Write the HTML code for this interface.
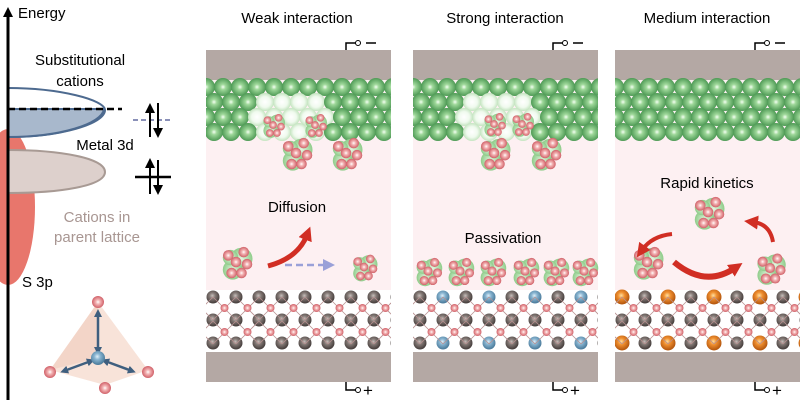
<!DOCTYPE html>
<html><head><meta charset="utf-8"><style>
html,body{margin:0;padding:0;background:#fff;width:800px;height:400px;overflow:hidden}
svg{display:block;font-family:"Liberation Sans",sans-serif}
</style></head><body>
<svg id="s" width="800" height="400" viewBox="0 0 800 400" xmlns="http://www.w3.org/2000/svg">
<defs>
<radialGradient id="gg" cx="0.5" cy="0.5" r="0.5"><stop offset="0" stop-color="#f4fff2"/><stop offset="0.3" stop-color="#9fd89a"/><stop offset="1" stop-color="#4e9a55"/></radialGradient>
<radialGradient id="gl" cx="0.5" cy="0.5" r="0.5"><stop offset="0" stop-color="#ffffff"/><stop offset="0.6" stop-color="#f0faee"/><stop offset="1" stop-color="#c4e4c0"/></radialGradient>
<radialGradient id="pk" cx="0.5" cy="0.5" r="0.5"><stop offset="0" stop-color="#fff"/><stop offset="0.35" stop-color="#f4b6b6"/><stop offset="1" stop-color="#d06068"/></radialGradient>
<radialGradient id="dg" cx="0.45" cy="0.4" r="0.55"><stop offset="0" stop-color="#c8c0bc"/><stop offset="0.4" stop-color="#847a76"/><stop offset="1" stop-color="#4a4240"/></radialGradient>
<radialGradient id="bl" cx="0.45" cy="0.4" r="0.55"><stop offset="0" stop-color="#e0f0fa"/><stop offset="0.4" stop-color="#88b4d0"/><stop offset="1" stop-color="#4f7f9f"/></radialGradient>
<radialGradient id="or" cx="0.45" cy="0.4" r="0.55"><stop offset="0" stop-color="#ffe0a0"/><stop offset="0.4" stop-color="#f09030"/><stop offset="1" stop-color="#b85a10"/></radialGradient>
<radialGradient id="lg" cx="0.5" cy="0.5" r="0.5"><stop offset="0" stop-color="#e4f6e0"/><stop offset="1" stop-color="#8fcc8a"/></radialGradient>
<marker id="ah" markerUnits="userSpaceOnUse" markerWidth="14" markerHeight="14" refX="5" refY="7" orient="auto"><path d="M0,0 L14,7 L0,14z" fill="#d12e24"/></marker>
<marker id="ab" markerUnits="userSpaceOnUse" markerWidth="12" markerHeight="12" refX="3" refY="6" orient="auto"><path d="M0,0 L12,6 L0,12z" fill="#9aa0d8"/></marker>
<marker id="ak" markerUnits="userSpaceOnUse" markerWidth="10" markerHeight="10" refX="5" refY="5" orient="auto"><path d="M0,0 L10,5 L0,10z" fill="#000"/></marker>
<marker id="an" markerUnits="userSpaceOnUse" markerWidth="8" markerHeight="8" refX="4" refY="4" orient="auto-start-reverse"><path d="M0,0 L8,4 L0,8z" fill="#3f5f7f"/></marker>
</defs>

<ellipse cx="8" cy="207" rx="27" ry="78" fill="#e8766c"/>
<path d="M8,88 C60,88 105,100 105,110 C105,124 60,137 8,137" fill="#fff" stroke="#4d6a8f" stroke-width="2"/>
<path d="M8,109 L104,109 C102,124 60,137 8,137z" fill="#a8b8cc" stroke="#4d6a8f" stroke-width="2"/>
<path d="M8,150 C60,150 105,158 105,172 C105,186 60,193 8,193" fill="#ddd0cc" stroke="#a89a94" stroke-width="2"/>
<line x1="8" y1="109" x2="122" y2="109" stroke="#000" stroke-width="2.5" stroke-dasharray="7,4"/>
<line x1="8" y1="400" x2="8" y2="12" stroke="#000" stroke-width="3" marker-end="url(#ak)"/>
<text x="18" y="18" font-size="15">Energy</text>
<text x="80" y="65" font-size="15" text-anchor="middle">Substitutional</text>
<text x="80" y="86" font-size="15" text-anchor="middle">cations</text>
<text x="105" y="150" font-size="15" text-anchor="middle">Metal 3d</text>
<text x="97" y="222" font-size="15" text-anchor="middle" fill="#a89692">Cations in</text>
<text x="97" y="242" font-size="15" text-anchor="middle" fill="#a89692">parent lattice</text>
<text x="22" y="287" font-size="15">S 3p</text>
<line x1="133" y1="120" x2="172" y2="120" stroke="#8a90b8" stroke-width="2" stroke-dasharray="5,3"/>
<line x1="150" y1="137" x2="150" y2="108" stroke="#000" stroke-width="2" marker-end="url(#ak)"/>
<line x1="158" y1="103" x2="158" y2="133" stroke="#000" stroke-width="2" marker-end="url(#ak)"/>
<line x1="135" y1="177" x2="171" y2="177" stroke="#000" stroke-width="2.5"/>
<line x1="150" y1="194" x2="150" y2="163" stroke="#000" stroke-width="2" marker-end="url(#ak)"/>
<line x1="158" y1="160" x2="158" y2="190" stroke="#000" stroke-width="2" marker-end="url(#ak)"/>
<path d="M98,302 L50,370 L105,385 L148,370z" fill="#f6dcd0" opacity="0.8"/>
<path d="M98,302 L50,370 L98,358z" fill="#f0cbbd" opacity="0.6"/>
<line x1="98" y1="351" x2="98" y2="313" stroke="#3f5f7f" stroke-width="2.5" marker-end="url(#an)" marker-start="url(#an)"/>
<line x1="91" y1="361" x2="64" y2="371" stroke="#3f5f7f" stroke-width="2.5" marker-end="url(#an)" marker-start="url(#an)"/>
<line x1="105" y1="361" x2="132" y2="371" stroke="#3f5f7f" stroke-width="2.5" marker-end="url(#an)" marker-start="url(#an)"/>
<circle cx="98" cy="358" r="7" fill="url(#bl)"/>
<circle cx="98" cy="302" r="6" fill="url(#pk)"/>
<circle cx="50" cy="372" r="6" fill="url(#pk)"/>
<circle cx="148" cy="372" r="6" fill="url(#pk)"/>
<circle cx="105" cy="388" r="6" fill="url(#pk)"/>

<text x="297" y="23" font-size="15" text-anchor="middle">Weak interaction</text>
<text x="505" y="23" font-size="15" text-anchor="middle">Strong interaction</text>
<text x="707" y="23" font-size="15" text-anchor="middle">Medium interaction</text>
<g id="panels"></g>
<g id="over"></g>
</svg>
<script>
var NS="http://www.w3.org/2000/svg";
var P=document.getElementById('panels'),O=document.getElementById('over');
function el(p,t,a,txt){var e=document.createElementNS(NS,t);for(var k in a)e.setAttribute(k,a[k]);if(txt)e.textContent=txt;p.appendChild(e);return e;}
function c(p,x,y,r,f){el(p,'circle',{cx:x,cy:y,r:r,fill:f});}
var xs=[206,413,615];
xs.forEach(function(x0,i){
 var w=185;
 var g=el(P,'g',{});
 var cp=el(g,'clipPath',{id:'cp'+i});el(cp,'rect',{x:x0,y:40,width:w,height:345});
 var h=el(g,'g',{'clip-path':'url(#cp'+i+')'});
 el(h,'rect',{x:x0,y:50,width:w,height:30,fill:'#b4a8a4'});
 el(h,'rect',{x:x0,y:80,width:w,height:210,fill:'#fdf0f2'});
 el(h,'rect',{x:x0,y:290,width:w,height:62,fill:'#fff'});
 el(h,'rect',{x:x0,y:352,width:w,height:30,fill:'#b4a8a4'});
 for(var r=0;r<4;r++)for(var k=-1;k<12;k++){
   var cx=x0+k*17+(r%2?8:0),cy=87+r*15;
   var light=(i<2)&&Math.abs(cx-(x0+85))<35&&cy>95;
   c(h,cx,cy,9,light?'url(#gl)':'url(#gg)');
 }
 [297,320,343].forEach(function(yy,ri){for(var k=0;k<9;k++){var cx=x0+7+k*23;var f='url(#dg)';
   if(i==1&&ri!=1&&k%2==1)f='url(#bl)';
   if(i==2&&ri!=1&&k%2==0)f='url(#or)';
   c(h,cx,yy,(f=='url(#or)')?7.5:6.5,f);}});
 [308,332].forEach(function(yy){for(var k=-1;k<9;k++){
   el(h,'line',{x1:x0+7+k*23,y1:yy-11,x2:x0+30+k*23,y2:yy+12,stroke:'#b89090','stroke-width':0.8});
   el(h,'line',{x1:x0+30+k*23,y1:yy-11,x2:x0+7+k*23,y2:yy+12,stroke:'#b89090','stroke-width':0.8});
   c(h,x0+18.5+k*23,yy,4,'url(#pk)');}});
 el(P,'path',{d:'M'+(x0+w-45)+',50 V43 H'+(x0+w-35),stroke:'#000',fill:'none','stroke-width':1.5});
 el(P,'circle',{cx:x0+w-33,cy:43,r:2.5,fill:'#fff',stroke:'#000'});
 el(P,'line',{x1:x0+w-25,y1:43,x2:x0+w-15,y2:43,stroke:'#000','stroke-width':1.5});
 el(P,'path',{d:'M'+(x0+w-45)+',382 V390 H'+(x0+w-35),stroke:'#000',fill:'none','stroke-width':1.5});
 el(P,'circle',{cx:x0+w-33,cy:390,r:2.5,fill:'#fff',stroke:'#000'});
 el(P,'text',{x:x0+w-28,y:396,'font-size':17},'+');
});
function clus(x,y,s){s=s||1;
 c(O,x+5*s,y-3*s,10*s,'url(#lg)');c(O,x-3*s,y+7*s,9*s,'url(#lg)');c(O,x-5*s,y-4*s,7*s,'url(#lg)');
 [[-7,-6],[0,0],[7,-9],[-4,10],[5,10],[10,2]].forEach(function(p){c(O,x+p[0]*s,y+p[1]*s,4.8*s,'url(#pk)');});
}
clus(273,125,0.8);clus(315,125,0.8);clus(296,153,1.1);clus(346,153,1.1);clus(236,262,1.1);clus(364,267,0.9);
el(O,'path',{d:'M268,266 Q298,258 307,235',stroke:'#d12e24','stroke-width':5,fill:'none','marker-end':'url(#ah)'});
el(O,'line',{x1:285,y1:265,x2:326,y2:265,stroke:'#9aa0d8','stroke-width':2.5,'stroke-dasharray':'7,4','marker-end':'url(#ab)'});
el(O,'text',{x:297,y:212,'font-size':15,'text-anchor':'middle'},'Diffusion');
clus(494,124,0.8);clus(522,124,0.8);clus(494,153,1.1);clus(545,153,1.1);
[428,460,492,525,555,584].forEach(function(x){clus(x,271,0.95);});
el(O,'text',{x:503,y:243,'font-size':15,'text-anchor':'middle'},'Passivation');
clus(708,212,1.1);clus(647,262,1.1);clus(770,268,1.05);
el(O,'path',{d:'M672,234 Q652,236 642,250',stroke:'#d12e24','stroke-width':4,fill:'none','marker-end':'url(#ah)'});
el(O,'path',{d:'M674,262 Q705,288 735,268',stroke:'#d12e24','stroke-width':6,fill:'none','marker-end':'url(#ah)'});
el(O,'path',{d:'M773,242 Q770,224 753,222',stroke:'#d12e24','stroke-width':4,fill:'none','marker-end':'url(#ah)'});
el(O,'text',{x:707,y:188,'font-size':15,'text-anchor':'middle'},'Rapid kinetics');
</script>
</body></html>
